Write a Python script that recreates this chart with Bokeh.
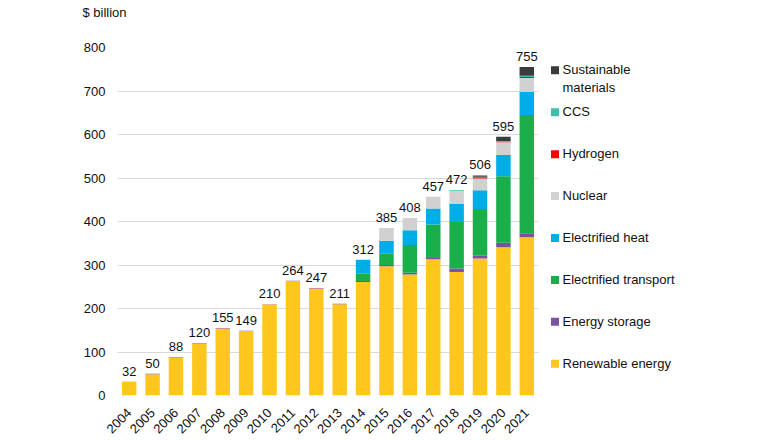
import math

from bokeh.core.properties import value
from bokeh.embed import file_html
from bokeh.layouts import column, row
from bokeh.models import ColumnDataSource, FactorRange, FixedTicker, Range1d
from bokeh.plotting import figure
from bokeh.resources import INLINE

# Annual investment by sector, $ billion
years = [str(y) for y in range(2004, 2022)]
renewable = [32, 49, 87, 119, 154, 148, 209, 263, 246, 210, 261, 297, 278, 313, 284, 315, 341, 364]
storage = [0, 1, 1, 1, 1, 1, 1, 1, 1, 1, 2, 3, 4, 3, 8, 6, 10, 9]
transport = [0, 0, 0, 0, 0, 0, 0, 0, 0, 0, 17, 26, 64, 77, 107, 108, 153, 272]
heat = [0, 0, 0, 0, 0, 0, 0, 0, 0, 0, 32, 30, 34, 37, 42, 43, 49, 53]
nuclear = [0, 0, 0, 0, 0, 0, 0, 0, 0, 0, 0, 29, 28, 27, 29, 27, 29, 32]
hydrogen = [0, 0, 0, 0, 0, 0, 0, 0, 0, 0, 0, 0, 0, 0, 0, 3, 2, 2]
ccs = [0, 0, 0, 0, 0, 0, 0, 0, 0, 0, 0, 0, 0, 0, 2, 1, 1, 3]
materials = [0, 0, 0, 0, 0, 0, 0, 0, 0, 0, 0, 0, 0, 0, 0, 3, 10, 20]

series_names = [
    "Renewable energy",
    "Energy storage",
    "Electrified transport",
    "Electrified heat",
    "Nuclear",
    "Hydrogen",
    "CCS",
    "Sustainable\nmaterials",
]
series_values = [renewable, storage, transport, heat, nuclear, hydrogen, ccs, materials]
series_colors = [
    "#FFC71E",
    "#7A52A3",
    "#1BAF4C",
    "#00ADE6",
    "#D1D1D1",
    "#FF0000",
    "#3DBFAD",
    "#3B3B3B",
]
unit_caption = "$ billion"

FONT = "Liberation Sans"
TEXT_COLOR = "#111111"
CAPTION_H = 24

keys = [f"s{i}" for i in range(len(series_values))]
data = {"year": years}
for k, vals in zip(keys, series_values):
    data[k] = vals
totals = [sum(col) for col in zip(*series_values)]
data["total"] = totals
data["label"] = [str(t) for t in totals]
source = ColumnDataSource(data)

# Thin strip holding the unit caption above the chart
cap = figure(
    width=770,
    height=CAPTION_H,
    x_range=Range1d(0, 770),
    y_range=Range1d(CAPTION_H, 0),
    min_border=0,
    x_axis_location=None,
    y_axis_location=None,
    output_backend="svg",
    toolbar_location=None,
)
cap.outline_line_color = None
cap.grid.visible = False
cap.text(
    x=[82],
    y=[12],
    text=[unit_caption],
    text_align="left",
    text_baseline="middle",
    text_font=value(FONT),
    text_font_size="13px",
    text_color=TEXT_COLOR,
)

p = figure(
    x_range=FactorRange(*years, range_padding=0, factor_padding=0),
    y_range=Range1d(0, 800),
    width=545,
    height=440 - CAPTION_H,
    min_border_left=117,
    min_border_right=7,
    min_border_top=47 - CAPTION_H,
    min_border_bottom=43,
    output_backend="svg",
    toolbar_location=None,
)

p.vbar_stack(keys, x="year", width=0.62, color=series_colors, line_color=None, source=source)

p.text(
    x="year",
    y="total",
    text="label",
    source=source,
    text_align="center",
    text_baseline="bottom",
    y_offset=-6,
    text_font=value(FONT),
    text_font_size="13px",
    text_color=TEXT_COLOR,
)

p.outline_line_color = None
p.xgrid.visible = False
p.ygrid.grid_line_color = "#D9D9D9"
p.ygrid.grid_line_width = 1
p.yaxis.ticker = FixedTicker(ticks=list(range(0, 801, 100)))
p.axis.axis_line_color = None
p.axis.major_tick_line_color = None
p.axis.minor_tick_line_color = None
p.axis.major_tick_out = 0
p.axis.major_tick_in = 0
p.axis.major_label_text_font = FONT
p.axis.major_label_text_font_size = "13px"
p.axis.major_label_text_color = TEXT_COLOR
p.yaxis.major_label_standoff = 12
p.xaxis.major_label_standoff = 15
p.xaxis.major_label_orientation = math.pi / 4

# Legend panel, top entry first; its frame lines up with the chart frame
frame_top = 47 - CAPTION_H
frame_bottom = 440 - CAPTION_H - 43
leg = figure(
    width=225,
    height=440 - CAPTION_H,
    x_range=Range1d(0, 225),
    y_range=Range1d(frame_bottom, frame_top),
    min_border=0,
    x_axis_location=None,
    y_axis_location=None,
    output_backend="svg",
    toolbar_location=None,
)
leg.outline_line_color = None
leg.grid.visible = False

order = list(range(len(series_names)))[::-1]
row_y = [70 - CAPTION_H + 42.15 * i for i in range(len(order))]
leg_src = ColumnDataSource(
    dict(
        x=[9.5] * len(order),
        tx=[17] * len(order),
        y=row_y,
        ty=[y - 8 for y in row_y],
        name=[series_names[i] for i in order],
        color=[series_colors[i] for i in order],
    )
)
leg.scatter(x="x", y="y", marker="square", size=8, color="color", line_color=None, source=leg_src)
leg.text(
    x="tx",
    y="ty",
    text="name",
    source=leg_src,
    text_align="left",
    text_baseline="top",
    text_font=value(FONT),
    text_font_size="13px",
    text_color=TEXT_COLOR,
    text_line_height=1.2,
)

layout = column(cap, row(p, leg))
open("out.html", "w").write(file_html(layout, INLINE))
